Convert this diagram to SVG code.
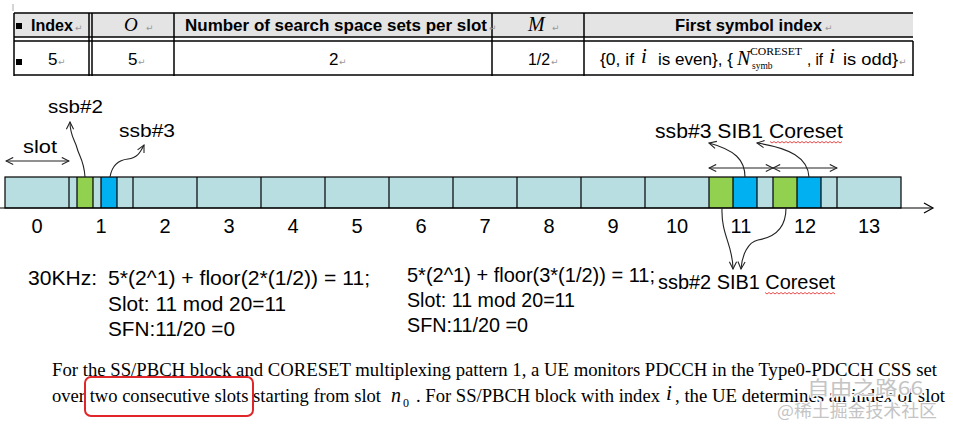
<svg xmlns="http://www.w3.org/2000/svg" width="953" height="434" viewBox="0 0 953 434">
<defs>
<style>
.sans{font-family:"Liberation Sans",Arial,sans-serif;fill:#000}
.serif{font-family:"Liberation Serif","Times New Roman",serif;fill:#000}
.it{font-style:italic}
.b{font-weight:bold}
.pm{font-family:"DejaVu Sans",sans-serif;font-size:9px;fill:#999}
.tl{stroke:#000;stroke-width:1.5;fill:none}
.ln{stroke:#000;stroke-width:1.2;fill:none}
.lb{fill:#b9dee2}
.gr{fill:#92d050}
.bl{fill:#00b0f0}
.cn{stroke:#222;stroke-width:1.1;fill:none}
.wv{stroke:#e02020;stroke-width:0.8;fill:none}
</style>
<marker id="ah" viewBox="0 0 10 10" refX="9" refY="5" markerWidth="9" markerHeight="9" markerUnits="userSpaceOnUse" orient="auto-start-reverse">
<path d="M1,1 L9,5 L1,9" fill="none" stroke="#222" stroke-width="1.2"/>
</marker>
</defs>
<rect width="953" height="434" fill="#fff"/>

<g id="table">
<line x1="13" y1="4" x2="13" y2="11" stroke="#aaa" stroke-width="1"/>
<rect x="14" y="13" width="899" height="24" fill="#e4e4e4"/>
<line class="tl" x1="14" y1="13" x2="913" y2="13"/>
<line class="tl" x1="14" y1="37" x2="913" y2="37"/>
<line class="tl" x1="14" y1="41" x2="913" y2="41"/>
<line class="tl" x1="14" y1="75" x2="913" y2="75"/>
<line class="tl" x1="14" y1="13" x2="14" y2="76"/>
<line class="tl" x1="89" y1="13" x2="89" y2="76"/>
<line class="tl" x1="92" y1="13" x2="92" y2="76"/>
<line class="tl" x1="174" y1="13" x2="174" y2="76"/>
<line class="tl" x1="492" y1="13" x2="492" y2="76"/>
<line class="tl" x1="584" y1="13" x2="584" y2="76"/>
<line class="tl" x1="913" y1="41" x2="913" y2="76"/>
<rect x="16" y="23" width="6" height="6" fill="#000"/>
<rect x="16" y="59" width="6" height="6" fill="#000"/>
<text class="sans b" x="31" y="31" font-size="17" textLength="42" lengthAdjust="spacingAndGlyphs">Index</text><text class="pm" x="75" y="31">↵</text>
<text class="serif it" x="124" y="31" font-size="19">O</text><text class="pm" x="146" y="31">↵</text>
<text class="sans b" x="185" y="31" font-size="17" textLength="302" lengthAdjust="spacingAndGlyphs">Number of search space sets per slot</text><text class="pm" x="489" y="31">↵</text>
<text class="serif it" x="528" y="31" font-size="20">M</text><text class="pm" x="552" y="31">↵</text>
<text class="sans b" x="675" y="31" font-size="17" textLength="147" lengthAdjust="spacingAndGlyphs">First symbol index</text><text class="pm" x="825" y="31">↵</text>
<text class="sans" x="48" y="65" font-size="17">5</text><text class="pm" x="58" y="65">↵</text>
<text class="sans" x="128" y="65" font-size="17">5</text><text class="pm" x="138" y="65">↵</text>
<text class="sans" x="329" y="65" font-size="17">2</text><text class="pm" x="339" y="65">↵</text>
<text class="sans" x="528" y="65" font-size="17" textLength="22" lengthAdjust="spacingAndGlyphs">1/2</text><text class="pm" x="551" y="65">↵</text>
<text class="sans" x="600" y="65" font-size="17" textLength="34" lengthAdjust="spacingAndGlyphs">{0, if</text>
<text class="serif it" x="641" y="63" font-size="21">i</text>
<text class="sans" x="658" y="65" font-size="17" textLength="75" lengthAdjust="spacingAndGlyphs">is even}, {</text>
<text class="serif it" x="737" y="65" font-size="20">N</text>
<text class="serif" x="750" y="55" font-size="9.5" textLength="52" lengthAdjust="spacingAndGlyphs">CORESET</text>
<text class="serif" x="752" y="69" font-size="9.5">symb</text>
<text class="sans" x="807" y="65" font-size="17" textLength="16" lengthAdjust="spacingAndGlyphs">, if</text>
<text class="serif it" x="829" y="63" font-size="21">i</text>
<text class="sans" x="843" y="65" font-size="17" textLength="55" lengthAdjust="spacingAndGlyphs">is odd}</text><text class="pm" x="899" y="65">↵</text>
</g>

<g id="timeline">
<rect class="lb" x="5" y="177" width="896" height="31"/>
<rect class="gr" x="77" y="177" width="16" height="31"/>
<rect class="bl" x="101" y="177" width="16" height="31"/>
<rect class="gr" x="709" y="177" width="24" height="31"/>
<rect class="bl" x="733" y="177" width="24" height="31"/>
<rect class="gr" x="773" y="177" width="24" height="31"/>
<rect class="bl" x="797" y="177" width="24" height="31"/>
<rect class="ln" x="5" y="177" width="896" height="31"/>
<path class="ln" d="M69,177V208M77,177V208M93,177V208M101,177V208M117,177V208M133,177V208M197,177V208M261,177V208M325,177V208M389,177V208M453,177V208M517,177V208M581,177V208M645,177V208M709,177V208M733,177V208M757,177V208M773,177V208M797,177V208M821,177V208M837,177V208"/>
</g>

<g id="axis">
<line class="ln" x1="0" y1="208" x2="932" y2="208"/>
<path class="ln" d="M924,203 L933,208 L924,213"/>
<g class="sans" font-size="20" text-anchor="middle">
<text x="37" y="233">0</text><text x="101" y="233">1</text><text x="165" y="233">2</text><text x="229" y="233">3</text><text x="293" y="233">4</text><text x="357" y="233">5</text><text x="421" y="233">6</text><text x="485" y="233">7</text><text x="549" y="233">8</text><text x="613" y="233">9</text><text x="677" y="233">10</text><text x="741" y="233">11</text><text x="805" y="233">12</text><text x="869" y="233">13</text>
</g>
</g>

<g id="labels">
<text id="lbl-slot" class="sans" x="23" y="153" font-size="19" textLength="34" lengthAdjust="spacingAndGlyphs">slot</text>
<text id="lbl-ssb2" class="sans" x="48" y="113" font-size="18" textLength="55" lengthAdjust="spacingAndGlyphs">ssb#2</text>
<text id="lbl-ssb3" class="sans" x="119" y="137" font-size="18" textLength="56" lengthAdjust="spacingAndGlyphs">ssb#3</text>
<text id="lbl-ssb3-sib1" class="sans" x="655" y="138" font-size="19.5" textLength="188" lengthAdjust="spacingAndGlyphs">ssb#3 SIB1 Coreset</text>
<path class="wv" d="M770,141.5 l2,1.5 l2,-1.5 l2,1.5 l2,-1.5 l2,1.5 l2,-1.5 l2,1.5 l2,-1.5 l2,1.5 l2,-1.5 l2,1.5 l2,-1.5 l2,1.5 l2,-1.5 l2,1.5 l2,-1.5 l2,1.5 l2,-1.5 l2,1.5 l2,-1.5 l2,1.5 l2,-1.5 l2,1.5 l2,-1.5 l2,1.5 l2,-1.5 l2,1.5 l2,-1.5 l2,1.5 l2,-1.5 l2,1.5 l2,-1.5 l2,1.5 l2,-1.5 l2,1.5 l2,-1.5"/>
<text id="lbl-ssb2-sib1" class="sans" x="658" y="289" font-size="19.5" textLength="177" lengthAdjust="spacingAndGlyphs">ssb#2 SIB1 Coreset</text>
<path class="wv" d="M765,292.5 l2,1.5 l2,-1.5 l2,1.5 l2,-1.5 l2,1.5 l2,-1.5 l2,1.5 l2,-1.5 l2,1.5 l2,-1.5 l2,1.5 l2,-1.5 l2,1.5 l2,-1.5 l2,1.5 l2,-1.5 l2,1.5 l2,-1.5 l2,1.5 l2,-1.5 l2,1.5 l2,-1.5 l2,1.5 l2,-1.5 l2,1.5 l2,-1.5 l2,1.5 l2,-1.5 l2,1.5 l2,-1.5 l2,1.5 l2,-1.5 l2,1.5 l2,-1.5 l2,1.5"/>
</g>

<g id="connectors">
<line class="cn" x1="6" y1="161" x2="69" y2="161" marker-start="url(#ah)" marker-end="url(#ah)"/>
<path class="cn" d="M85,177 C84,160 79,156 77,148 C75,140 70,136 70,122" marker-end="url(#ah)"/>
<path class="cn" d="M110,177 C112,165 118,160 128,159 C137,158 140,153 144,145" marker-end="url(#ah)"/>
<line class="cn" x1="709" y1="168" x2="773" y2="168" marker-start="url(#ah)" marker-end="url(#ah)"/>
<line class="cn" x1="773" y1="168" x2="837" y2="168" marker-start="url(#ah)" marker-end="url(#ah)"/>
<path class="cn" d="M745,177 C745,160 735,150 709,143" marker-end="url(#ah)"/>
<path class="cn" d="M809,177 C808,158 790,148 757,143" marker-end="url(#ah)"/>
<path class="cn" d="M722,208 C721,235 733,245 733,269" marker-end="url(#ah)"/>
<path class="cn" d="M786,208 C786,232 770,238 758,240 C748,242 742,255 741,269" marker-end="url(#ah)"/>
</g>

<g id="formulas" class="sans" font-size="21">
<text x="28" y="285" textLength="69" lengthAdjust="spacingAndGlyphs">30KHz:</text>
<text x="108" y="285" textLength="262" lengthAdjust="spacingAndGlyphs">5*(2^1) + floor(2*(1/2)) = 11;</text>
<text x="108" y="311" textLength="178" lengthAdjust="spacingAndGlyphs">Slot: 11 mod 20=11</text>
<text x="108" y="336" textLength="127" lengthAdjust="spacingAndGlyphs">SFN:11/20 =0</text>
<text x="407" y="282" textLength="248" lengthAdjust="spacingAndGlyphs">5*(2^1) + floor(3*(1/2)) = 11;</text>
<text x="407" y="307" textLength="168" lengthAdjust="spacingAndGlyphs">Slot: 11 mod 20=11</text>
<text x="407" y="332" textLength="121" lengthAdjust="spacingAndGlyphs">SFN:11/20 =0</text>
</g>

<g id="paragraph" class="serif" font-size="19">
<text x="52" y="376" textLength="885" lengthAdjust="spacingAndGlyphs">For the SS/PBCH block and CORESET multiplexing pattern 1, a UE monitors PDCCH in the Type0-PDCCH CSS set</text>
<text x="52" y="402" textLength="329" lengthAdjust="spacingAndGlyphs">over two consecutive slots starting from slot</text>
<text class="it" x="391" y="402" font-size="20">n</text>
<text x="403" y="407" font-size="12">0</text>
<text x="416" y="402" textLength="244" lengthAdjust="spacingAndGlyphs">. For SS/PBCH block with index</text>
<text class="it" x="666" y="400" font-size="21">i</text>
<text x="675" y="402" textLength="270" lengthAdjust="spacingAndGlyphs">, the UE determines an index of slot</text>
<rect x="85" y="377" width="168" height="39" rx="6" fill="none" stroke="#e0262a" stroke-width="2"/>
</g>

<g id="watermark" font-family="'Noto Sans CJK SC',sans-serif" fill="#c4c4c4" stroke="#fff" stroke-width="2" paint-order="stroke">
<text x="807" y="395" font-size="19" textLength="116" lengthAdjust="spacingAndGlyphs">自由之路66</text>
<text x="777" y="417" font-size="17" textLength="160" lengthAdjust="spacingAndGlyphs">@稀土掘金技术社区</text>
</g>
</svg>
